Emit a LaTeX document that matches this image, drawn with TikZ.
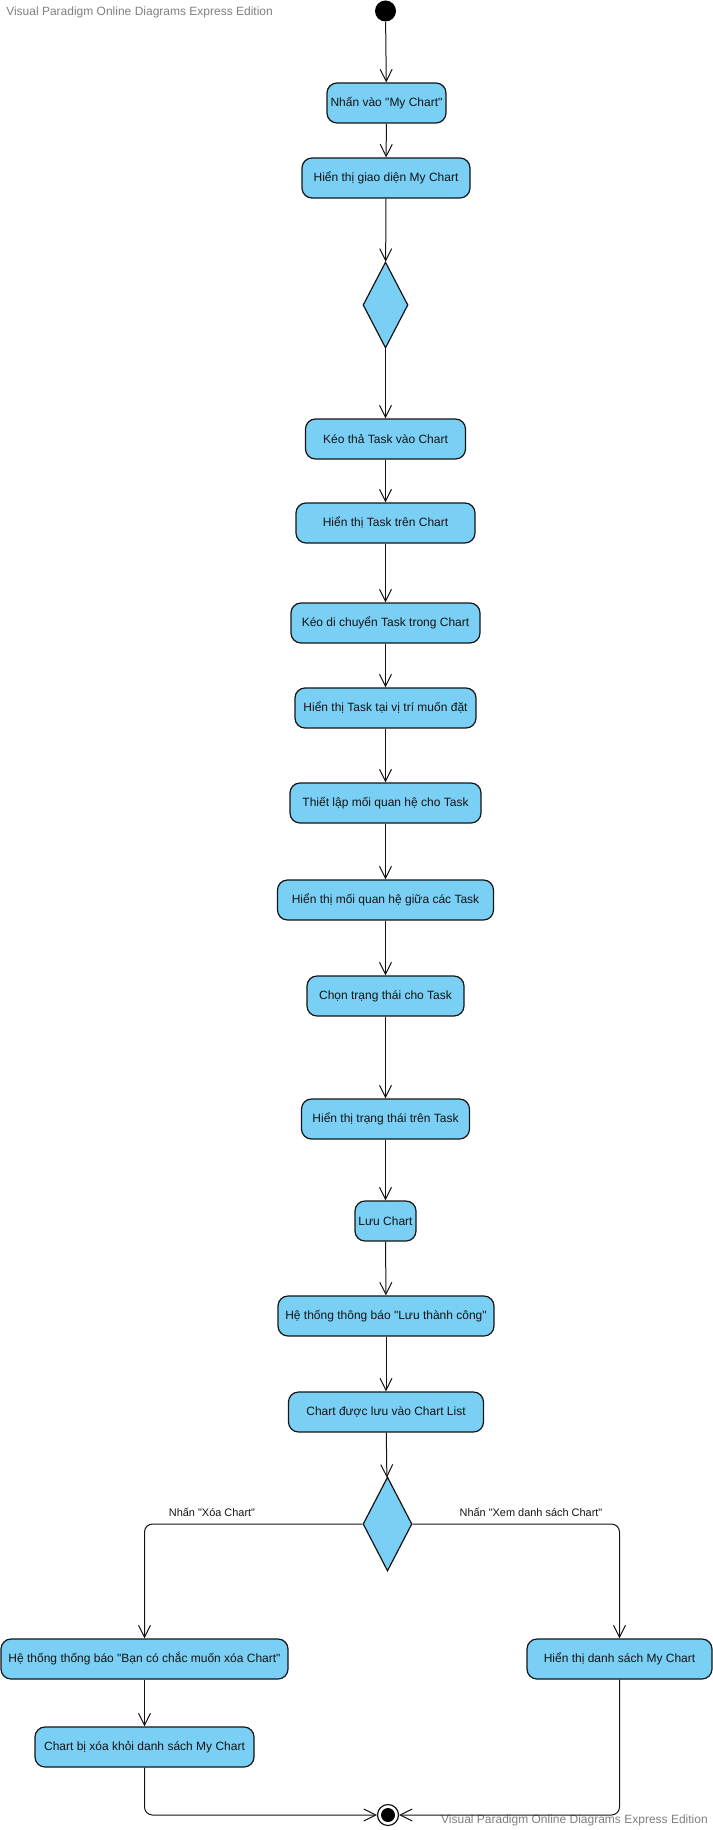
\documentclass[tikz,border=0pt]{standalone}
\usepackage{fontspec}
\setmainfont{Liberation Sans}[Ligatures=TeXOff]
\usetikzlibrary{arrows.meta,shapes.geometric}
\definecolor{actfill}{RGB}{122,207,245}
\definecolor{ink}{RGB}{20,20,20}
\definecolor{mark}{RGB}{128,128,128}
\begin{document}
\begin{tikzpicture}[x=0.75pt,y=-0.75pt,
  act/.style={draw=ink, line width=0.9pt, fill=actfill, rounded corners=7.5pt,
    minimum height=30pt, inner sep=0pt, text=ink,
    font=\fontsize{9}{11}\selectfont},
  bw/.style={minimum width=#1*0.75pt},
  decision/.style={diamond, draw=ink, line width=0.9pt, fill=actfill, inner sep=0pt},
  arr/.style={draw=ink, line width=0.75pt, -{Straight Barb[length=9pt,width=9pt,line width=0.75pt]}},
  guard/.style={text=ink, font=\fontsize{8.2}{9.5}\selectfont},
  wmark/.style={text=mark, font=\fontsize{9}{10}\selectfont, inner sep=0pt}]
\useasboundingbox (0,0) rectangle (713,1830);

% watermarks
\node[wmark, anchor=west] (wm1) at (6,12) {Visual Paradigm Online Diagrams Express Edition};
\node[wmark, anchor=east] (wm2) at (708,1820) {Visual Paradigm Online Diagrams Express Edition};

% initial node
\node[circle, fill=black, minimum size=21pt*0.75, inner sep=0pt] (start) at (385.5,11) {};

% main flow
\node[act, bw=119] (a1) at (386.5,103) {Nhấn vào "My Chart"};
\node[act, bw=168] (a2) at (386,178) {Hiển thị giao diện My Chart};
\node[decision, minimum width=45*0.75pt, minimum height=86*0.75pt] (d1) at (385.5,305) {};
\node[act, bw=160] (a3) at (385.5,439) {Kéo thả Task vào Chart};
\node[act, bw=179] (a4) at (385.5,523) {Hiển thị Task trên Chart};
\node[act, bw=189] (a5) at (385.5,623) {Kéo di chuyển Task trong Chart};
\node[act, bw=181] (a6) at (385.5,708) {Hiển thị Task tại vị trí muốn đặt};
\node[act, bw=191] (a7) at (385.5,803) {Thiết lập mối quan hệ cho Task};
\node[act, bw=216] (a8) at (385.5,900) {Hiển thị mối quan hệ giữa các Task};
\node[act, bw=157] (a9) at (385.5,996) {Chọn trạng thái cho Task};
\node[act, bw=168] (a10) at (385.5,1119) {Hiển thị trạng thái trên Task};
\node[act, bw=61] (a11) at (385.5,1221) {Lưu Chart};
\node[act, bw=216] (a12) at (386,1316) {Hệ thống thông báo "Lưu thành công"};
\node[act, bw=195] (a13) at (386,1412) {Chart được lưu vào Chart List};
\node[decision, minimum width=49*0.75pt, minimum height=94*0.75pt] (d2) at (387.5,1524) {};

% branches
\node[act, bw=287] (b1) at (144.5,1659) {Hệ thống thống báo "Bạn có chắc muốn xóa Chart"};
\node[act, bw=219] (b2) at (144.5,1747) {Chart bị xóa khỏi danh sách My Chart};
\node[act, bw=185] (c1) at (619.5,1659) {Hiển thị danh sách My Chart};

% final node
\node[circle, draw=ink, line width=0.9pt, fill=white, minimum size=21*0.75pt, inner sep=0pt] (stop) at (388,1815) {};
\fill[black] (stop.center) circle (7);

% guards
\node[guard] (g1) at (212,1512) {Nhấn "Xóa Chart"};
\node[guard] (g2) at (531,1512) {Nhấn "Xem danh sách Chart"};

% connectors
\draw[arr] (start) -- (a1);
\draw[arr] (a1) -- (a2);
\draw[arr] (a2) -- (d1);
\draw[arr] (d1) -- (a3);
\draw[arr] (a3) -- (a4);
\draw[arr] (a4) -- (a5);
\draw[arr] (a5) -- (a6);
\draw[arr] (a6) -- (a7);
\draw[arr] (a7) -- (a8);
\draw[arr] (a8) -- (a9);
\draw[arr] (a9) -- (a10);
\draw[arr] (a10) -- (a11);
\draw[arr] (a11) -- (a12);
\draw[arr] (a12) -- (a13);
\draw[arr] (a13) -- (d2);
\draw[arr, rounded corners=6pt] (d2.west) -| (b1.north);
\draw[arr, rounded corners=6pt] (d2.east) -| (c1.north);
\draw[arr] (b1) -- (b2);
\draw[arr, rounded corners=6pt] (b2.south) |- (stop.west);
\draw[arr, rounded corners=6pt] (c1.south) |- (stop.east);
\end{tikzpicture}
\end{document}
